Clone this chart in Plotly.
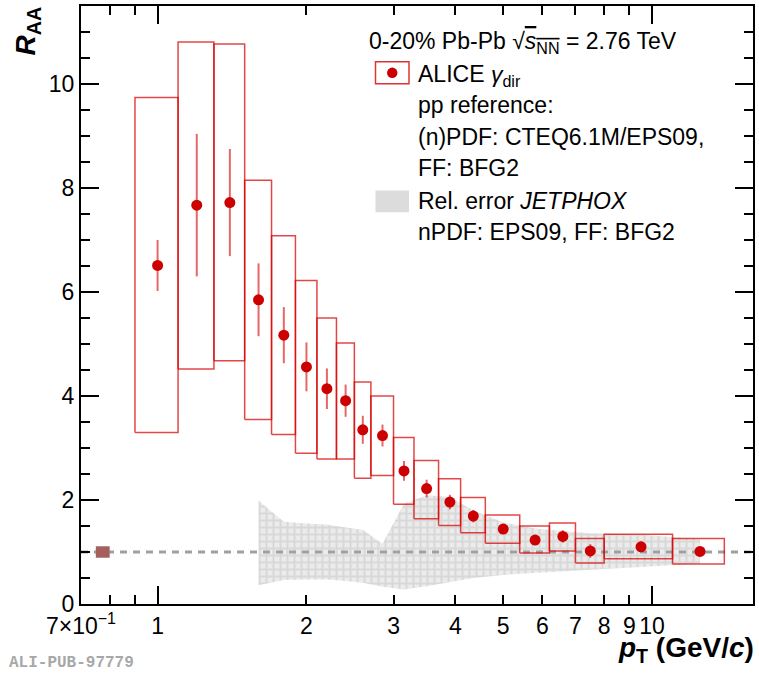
import math
import plotly.graph_objects as go

# ---------------- data ----------------
pt = [1.0, 1.2, 1.4, 1.6, 1.8, 2.0, 2.2, 2.4, 2.6, 2.85, 3.15, 3.5, 3.9, 4.35,
      5.0, 5.8, 6.6, 7.5, 9.5, 12.5]
raa = [6.51, 7.67, 7.72, 5.85, 5.17, 4.56, 4.14, 3.91, 3.35, 3.24, 2.56, 2.22,
       1.96, 1.69, 1.44, 1.23, 1.30, 1.02, 1.10, 1.01]
stat_err = [0.49, 1.37, 1.03, 0.70, 0.54, 0.47, 0.39, 0.31, 0.27, 0.21, 0.19,
            0.17, 0.14, 0.12, 0.06, 0.07, 0.12, 0.13, 0.10, 0.09]
bin_lo = [0.9, 1.1, 1.3, 1.5, 1.7, 1.9, 2.1, 2.3, 2.5, 2.7, 3.0, 3.3, 3.7, 4.1,
          4.6, 5.4, 6.2, 7.0, 8.0, 11.0]
bin_hi = [1.1, 1.3, 1.5, 1.7, 1.9, 2.1, 2.3, 2.5, 2.7, 3.0, 3.3, 3.7, 4.1, 4.6,
          5.4, 6.2, 7.0, 8.0, 11.0, 14.0]
sys_top = [9.74, 10.81, 10.77, 8.15, 7.08, 6.22, 5.50, 5.02, 4.27, 4.00, 3.20,
           2.76, 2.41, 2.05, 1.71, 1.50, 1.56, 1.26, 1.34, 1.26]
sys_bot = [3.30, 4.52, 4.68, 3.55, 3.26, 2.90, 2.79, 2.79, 2.42, 2.47, 1.92,
           1.64, 1.51, 1.37, 1.17, 0.98, 1.02, 0.79, 0.87, 0.77]

# JETPHOX relative error band (around 1)
band_pt = [1.6, 1.8, 2.0, 2.2, 2.4, 2.6, 2.85, 3.15, 3.5, 3.9, 4.35, 5.0, 5.8,
           6.6, 7.5, 9.5, 12.5]
band_hi = [1.99, 1.58, 1.55, 1.53, 1.47, 1.43, 1.16, 1.93, 2.09, 2.06, 1.80,
           1.57, 1.45, 1.40, 1.36, 1.33, 1.25]
band_lo = [0.36, 0.46, 0.47, 0.47, 0.44, 0.41, 0.33, 0.28, 0.34, 0.42, 0.50,
           0.56, 0.60, 0.63, 0.66, 0.71, 0.78]

# normalisation uncertainty box
norm_pt = [0.75, 0.80]
norm_val = 1.0
norm_err = 0.11

x_tickvals = [0.7, 1, 2, 3, 4, 5, 6, 7, 8, 9, 10]
x_ticktext = ["7×10<sup>−1</sup>", "1", "2", "3", "4", "5", "6", "7",
              "8", "9", "10"]
x_minor = [0.8, 0.9]
x_major = [1, 10]
y_tickvals = [0, 2, 4, 6, 8, 10]

X_RANGE = [0.7, 16.0]
Y_RANGE = [0, 11.5]

FONT = "Liberation Sans, Arial, Helvetica, sans-serif"
RED = "#cc0000"

fig = go.Figure()

# band (pattern fill)
fig.add_trace(go.Scatter(x=band_pt, y=band_lo, mode="lines",
                         line=dict(width=0, color="rgba(0,0,0,0)"),
                         showlegend=False, hoverinfo="skip"))
fig.add_trace(go.Scatter(x=band_pt, y=band_hi, mode="lines", fill="tonexty",
                         line=dict(width=0, color="rgba(0,0,0,0)"),
                         fillcolor="rgba(0,0,0,0)",
                         fillpattern=dict(shape="+", fgcolor="#c6c6c6",
                                          bgcolor="#ebebeb", size=7,
                                          solidity=0.5),
                         showlegend=False, hoverinfo="skip"))

# reference line at 1
fig.add_trace(go.Scatter(x=X_RANGE, y=[norm_val, norm_val], mode="lines",
                         line=dict(color="#a0a0a0", width=3, dash="7px,6px"),
                         showlegend=False, hoverinfo="skip"))

# normalisation box
fig.add_trace(go.Scatter(
    x=[norm_pt[0], norm_pt[1], norm_pt[1], norm_pt[0], norm_pt[0]],
    y=[norm_val - norm_err, norm_val - norm_err, norm_val + norm_err,
       norm_val + norm_err, norm_val - norm_err],
    mode="lines", fill="toself", fillcolor="#a5605e",
    line=dict(width=0, color="#a5605e"), showlegend=False, hoverinfo="skip"))

# systematic boxes
bx, by = [], []
for lo, hi, t, b in zip(bin_lo, bin_hi, sys_top, sys_bot):
    bx += [lo, hi, hi, lo, lo, None]
    by += [b, b, t, t, b, None]
fig.add_trace(go.Scatter(x=bx, y=by, mode="lines",
                         line=dict(color="rgba(215,0,0,0.72)", width=1.5),
                         showlegend=False, hoverinfo="skip"))

# points with stat errors
fig.add_trace(go.Scatter(x=pt, y=raa, mode="markers",
                         marker=dict(color=RED, size=11),
                         error_y=dict(type="data", array=stat_err, width=0,
                                      thickness=2,
                                      color="rgba(215,0,0,0.6)"),
                         showlegend=False))

# invisible trace on xaxis2 to activate it
fig.add_trace(go.Scatter(x=[pt[0]], y=[raa[0]], xaxis="x2", mode="markers",
                         marker=dict(opacity=0), showlegend=False,
                         hoverinfo="skip"))

# dimensions in pixels -> paper helpers
L, R, T, B = 81, 753, 4, 604
W, H = R - L, B - T
def px(x):
    return (x - L) / W
def py(y):
    return (B - y) / H

annotations = []
def txt(x, y, s, size=23, xanchor="left", yanchor="middle", **kw):
    annotations.append(dict(x=px(x), y=py(y), xref="paper", yref="paper",
                            text=s, showarrow=False, xanchor=xanchor,
                            yanchor=yanchor,
                            font=dict(family=kw.pop("family", FONT), size=size,
                                      color=kw.pop("color", "black")), **kw))

txt(367, 41, "0-20% Pb-Pb √<span style='text-decoration:overline'><i>s</i><sub>NN</sub></span> = 2.76 TeV")
txt(416, 74, "ALICE <i>γ</i><sub>dir</sub>")
txt(416, 103, "pp reference:")
txt(416, 135, "(n)PDF: CTEQ6.1M/EPS09,")
txt(416, 167, "FF: BFG2")
txt(416, 200, "Rel. error <i>JETPHOX</i>")
txt(416, 231, "nPDF: EPS09, FF: BFG2")

# axis titles
txt(28, 3, "<b><i>R</i><sub>AA</sub></b>", size=28, xanchor="center",
    yanchor="top", textangle=-90)
txt(756, 650, "<b><i>p</i><sub>T</sub> (GeV/<i>c</i>)</b>", size=28,
    xanchor="right", yanchor="middle")
txt(7, 663, "<b>ALI-PUB-97779</b>", size=16,
    family="Liberation Mono, Courier New, monospace", color="#a8a8a8")

shapes = [
    dict(type="rect", xref="paper", yref="paper", x0=px(375.5), x1=px(409),
         y0=py(82), y1=py(60), line=dict(color="rgba(215,0,0,0.8)", width=1.5)),
    dict(type="circle", xref="paper", yref="paper", x0=px(387), x1=px(397.5),
         y0=py(76.3), y1=py(65.8), fillcolor=RED, line=dict(width=0)),
    dict(type="rect", xref="paper", yref="paper", x0=px(375.5), x1=px(409),
         y0=py(211), y1=py(189), fillcolor="#dcdcdc", line=dict(width=0)),
]

axis_common = dict(showgrid=False, zeroline=False, ticks="inside",
                   tickcolor="black", linecolor="black", linewidth=2,
                   tickwidth=1.5,
                   tickfont=dict(family=FONT, size=23, color="black"))

LOGX = [math.log10(X_RANGE[0]), math.log10(X_RANGE[1])]

fig.update_layout(
    width=759, height=675,
    margin=dict(l=L, r=759 - R, t=T, b=675 - B),
    paper_bgcolor="white", plot_bgcolor="white",
    font=dict(family=FONT, color="black"),
    showlegend=False,
    hovermode=False,
    xaxis=dict(type="log", range=LOGX,
               tickmode="array", tickvals=x_tickvals, ticktext=x_ticktext,
               ticklen=9, showline=True, mirror="ticks",
               minor=dict(tickmode="array", tickvals=x_minor, ticklen=9,
                          ticks="inside", tickcolor="black", tickwidth=1.5),
               **axis_common),
    xaxis2=dict(type="log", overlaying="x", anchor="y", side="bottom",
                range=LOGX,
                tickmode="array", tickvals=x_major, showticklabels=False,
                ticklen=18, showline=False, mirror="ticks", showgrid=False,
                zeroline=False, ticks="inside", tickcolor="black",
                tickwidth=1.5),
    yaxis=dict(range=Y_RANGE, tickmode="array", tickvals=y_tickvals,
               ticklen=18, showline=True, mirror="ticks",
               minor=dict(dtick=0.5, tick0=0, ticklen=9, ticks="inside",
                          tickcolor="black", tickwidth=1.5),
               **axis_common),
    annotations=annotations,
    shapes=shapes,
)

fig.write_html("out.html", config={"displayModeBar": False},
               post_script="document.body.style.margin='0px';")
